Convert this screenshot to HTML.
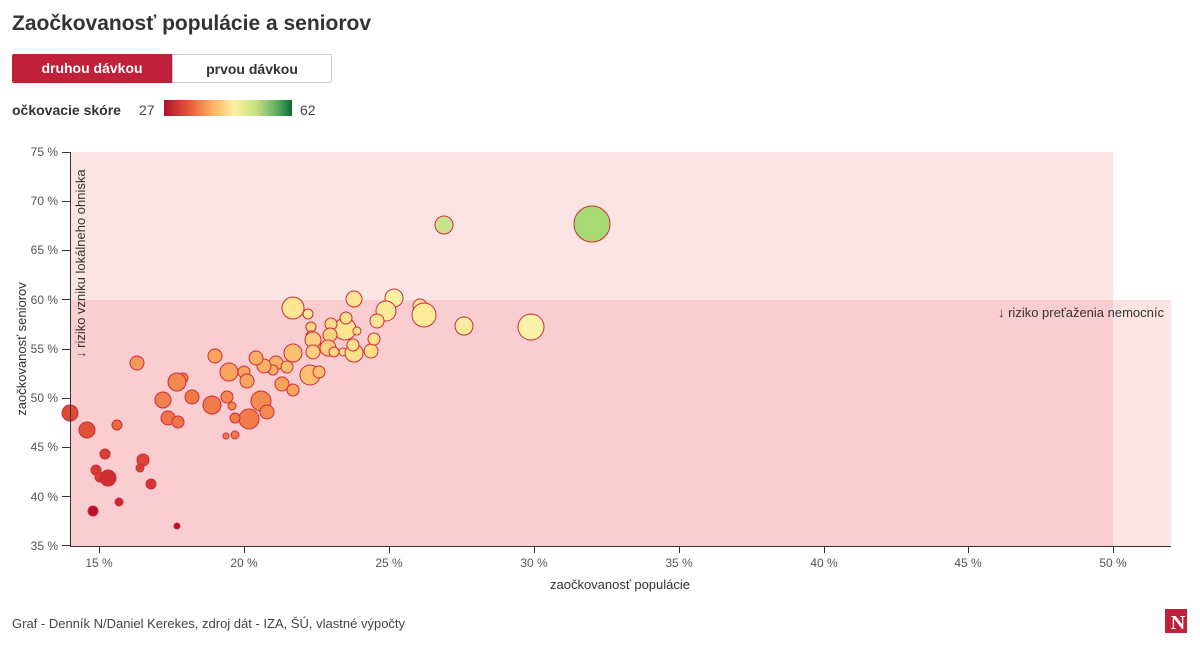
<!DOCTYPE html>
<html><head><meta charset="utf-8"><style>
body{margin:0;background:#fff;font-family:"Liberation Sans",sans-serif;color:#333;width:1200px;height:650px;overflow:hidden;position:relative}
.t{position:absolute;left:12px;top:12px;font-size:21px;font-weight:bold;color:#333}
.b{position:absolute;top:54px;height:29px;line-height:29px;text-align:center;font-size:14px;font-weight:bold;box-sizing:border-box}
</style></head><body>
<div class="t">Zaočkovanosť populácie a seniorov</div>
<div class="b" style="left:12px;width:160px;background:#c0203a;color:#fff;border-radius:2px 0 0 2px">druhou dávkou</div>
<div class="b" style="left:172px;width:160px;border:1px solid #ccc;color:#333;border-radius:0 2px 2px 0">prvou dávkou</div>
<div style="position:absolute;left:12px;top:102px;font-size:14px;font-weight:bold">očkovacie skóre</div>
<div style="position:absolute;left:139px;top:102px;font-size:14px;color:#444">27</div>
<div style="position:absolute;left:164px;top:100px;width:128px;height:16px;background:linear-gradient(90deg,#b0102a,#e85a3a 20%,#fcb060 38%,#fbf0a0 55%,#c8e080 72%,#5cb060 88%,#0a6a38)"></div>
<div style="position:absolute;left:300px;top:102px;font-size:14px;color:#444">62</div>
<svg width="1200" height="650" style="position:absolute;left:0;top:0" font-family="Liberation Sans, sans-serif">
<rect x="70" y="152" width="1043" height="148" fill="#fce4e4"/>
<rect x="70" y="300" width="1043" height="246" fill="#facdd0"/>
<rect x="1113" y="300" width="58" height="246" fill="#fce4e4"/>
<text x="1164" y="317" font-size="13" text-anchor="end" fill="#333">↓ riziko preťaženia nemocníc</text>
<text transform="translate(85,358) rotate(-90)" font-size="13" fill="#333">↓ riziko vzniku lokálneho ohniska</text>
<g stroke="#d02a3a" stroke-width="1">
<circle cx="592" cy="224" r="18" fill="#a8da74"/>
<circle cx="444" cy="225" r="9" fill="#c4e38a"/>
<circle cx="531" cy="327" r="13" fill="#fbf0a8"/>
<circle cx="464" cy="326" r="9" fill="#faeca0"/>
<circle cx="293" cy="308" r="11" fill="#fde592"/>
<circle cx="308" cy="314" r="5" fill="#fde592"/>
<circle cx="354" cy="299" r="8" fill="#fde592"/>
<circle cx="394" cy="298" r="9" fill="#fbf0a4"/>
<circle cx="386" cy="311" r="10" fill="#fde99a"/>
<circle cx="377" cy="321" r="7" fill="#fde592"/>
<circle cx="420" cy="306" r="7" fill="#fde592"/>
<circle cx="424" cy="315" r="12" fill="#fdeb9c"/>
<circle cx="345" cy="329" r="11" fill="#fde592"/>
<circle cx="346" cy="318" r="6" fill="#fde08a"/>
<circle cx="331" cy="324" r="6" fill="#fdd884"/>
<circle cx="357" cy="331" r="4" fill="#fde08a"/>
<circle cx="311" cy="327" r="5" fill="#fdd884"/>
<circle cx="311" cy="336" r="5" fill="#fdd884"/>
<circle cx="313" cy="340" r="8" fill="#fdd080"/>
<circle cx="330" cy="335" r="7" fill="#fdd080"/>
<circle cx="328" cy="348" r="8" fill="#fdd080"/>
<circle cx="313" cy="352" r="7" fill="#fdd080"/>
<circle cx="334" cy="352" r="5" fill="#fdd884"/>
<circle cx="343" cy="352" r="4" fill="#fde08a"/>
<circle cx="354" cy="353" r="9" fill="#fde08a"/>
<circle cx="353" cy="345" r="6" fill="#fde08a"/>
<circle cx="371" cy="351" r="7" fill="#fde08a"/>
<circle cx="374" cy="339" r="6" fill="#fde08a"/>
<circle cx="293" cy="353" r="9" fill="#fbc070"/>
<circle cx="276" cy="363" r="7" fill="#fab066"/>
<circle cx="287" cy="367" r="6" fill="#fbc070"/>
<circle cx="273" cy="370" r="5" fill="#fab066"/>
<circle cx="264" cy="366" r="7" fill="#fab066"/>
<circle cx="256" cy="358" r="7" fill="#fab066"/>
<circle cx="215" cy="356" r="7" fill="#f8a45c"/>
<circle cx="229" cy="372" r="9" fill="#f8a45c"/>
<circle cx="244" cy="372" r="6" fill="#f8a45c"/>
<circle cx="247" cy="381" r="7" fill="#f8a45c"/>
<circle cx="310" cy="375" r="10" fill="#fbc070"/>
<circle cx="319" cy="372" r="6" fill="#fbc070"/>
<circle cx="282" cy="384" r="7" fill="#f8a45c"/>
<circle cx="293" cy="390" r="6" fill="#f8a45c"/>
<circle cx="261" cy="401" r="10" fill="#f38a50"/>
<circle cx="267" cy="412" r="7" fill="#f38a50"/>
<circle cx="249" cy="419" r="10" fill="#f07a48"/>
<circle cx="235" cy="418" r="5" fill="#f07a48"/>
<circle cx="227" cy="397" r="6" fill="#f38a50"/>
<circle cx="232" cy="406" r="4" fill="#f38a50"/>
<circle cx="212" cy="405" r="9" fill="#f07a48"/>
<circle cx="192" cy="397" r="7" fill="#f07a48"/>
<circle cx="183" cy="378" r="5" fill="#f38a50"/>
<circle cx="235" cy="435" r="4" fill="#f07a48"/>
<circle cx="226" cy="436" r="3" fill="#f07a48"/>
<circle cx="137" cy="363" r="7" fill="#f29a5a"/>
<circle cx="177" cy="382" r="9" fill="#f28a50"/>
<circle cx="163" cy="400" r="8" fill="#f08050"/>
<circle cx="168" cy="418" r="7" fill="#ee7448"/>
<circle cx="178" cy="422" r="6" fill="#ee7448"/>
<circle cx="70" cy="413" r="8" fill="#dd4a35"/>
<circle cx="87" cy="430" r="8" fill="#e05238"/>
<circle cx="117" cy="425" r="5" fill="#e86a40"/>
<circle cx="105" cy="454" r="5" fill="#d84030"/>
<circle cx="143" cy="460" r="6" fill="#dc4632"/>
<circle cx="96" cy="470" r="5" fill="#d63a30"/>
<circle cx="100" cy="477" r="5" fill="#d8402f"/>
<circle cx="108" cy="478" r="8" fill="#cf2f2e"/>
<circle cx="140" cy="468" r="4" fill="#d84030"/>
<circle cx="151" cy="484" r="5" fill="#d33530"/>
<circle cx="119" cy="502" r="4" fill="#cc2a2e"/>
<circle cx="93" cy="511" r="5" fill="#b8102a"/>
<circle cx="177" cy="526" r="3" fill="#b01028"/>
</g>
<g stroke="#333" stroke-width="1">
<line x1="70.5" y1="152" x2="70.5" y2="546"/>
<line x1="70" y1="546.5" x2="1171" y2="546.5"/>
</g>
<g font-size="12" fill="#555" text-anchor="end">
<text x="58" y="156">75 %</text><text x="58" y="205">70 %</text><text x="58" y="254">65 %</text><text x="58" y="304">60 %</text><text x="58" y="353">55 %</text><text x="58" y="402">50 %</text><text x="58" y="451">45 %</text><text x="58" y="501">40 %</text><text x="58" y="550">35 %</text>
</g>
<g stroke="#333"><line x1="62" x2="70" y1="152.5" y2="152.5"/><line x1="62" x2="70" y1="201.5" y2="201.5"/><line x1="62" x2="70" y1="250.5" y2="250.5"/><line x1="62" x2="70" y1="299.5" y2="299.5"/><line x1="62" x2="70" y1="349.5" y2="349.5"/><line x1="62" x2="70" y1="398.5" y2="398.5"/><line x1="62" x2="70" y1="447.5" y2="447.5"/><line x1="62" x2="70" y1="496.5" y2="496.5"/><line x1="62" x2="70" y1="545.5" y2="545.5"/>
<line x1="99.5" x2="99.5" y1="546" y2="553"/><line x1="244.5" x2="244.5" y1="546" y2="553"/><line x1="389.5" x2="389.5" y1="546" y2="553"/><line x1="534.5" x2="534.5" y1="546" y2="553"/><line x1="679.5" x2="679.5" y1="546" y2="553"/><line x1="824.5" x2="824.5" y1="546" y2="553"/><line x1="968.5" x2="968.5" y1="546" y2="553"/><line x1="1113.5" x2="1113.5" y1="546" y2="553"/></g>
<g font-size="12" fill="#555" text-anchor="middle">
<text x="99" y="567">15 %</text><text x="244" y="567">20 %</text><text x="389" y="567">25 %</text><text x="534" y="567">30 %</text><text x="679" y="567">35 %</text><text x="824" y="567">40 %</text><text x="968" y="567">45 %</text><text x="1113" y="567">50 %</text>
</g>
<text x="620" y="589" font-size="13" fill="#333" text-anchor="middle">zaočkovanosť populácie</text>
<text transform="translate(26,349) rotate(-90)" font-size="13" fill="#333" text-anchor="middle">zaočkovanosť seniorov</text>
<text x="12" y="628" font-size="13" fill="#444">Graf - Denník N/Daniel Kerekes, zdroj dát - IZA, ŠÚ, vlastné výpočty</text>
<rect x="1165" y="609" width="22" height="24" fill="#c0203a"/>
<text x="1178" y="629" font-size="20" font-weight="bold" fill="#fff" text-anchor="middle" font-family="Liberation Serif, serif">N</text>
</svg>
</body></html>
